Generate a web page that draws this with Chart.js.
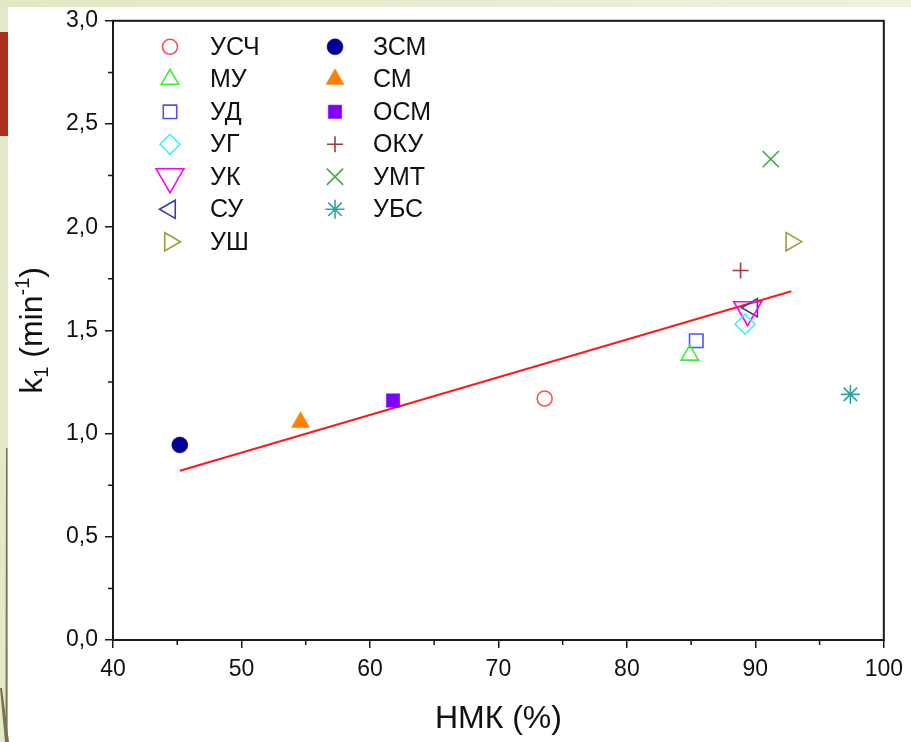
<!DOCTYPE html>
<html><head><meta charset="utf-8">
<script src="https://cdn.jsdelivr.net/npm/chart.js@4/dist/chart.umd.min.js"></script>
<style>
html,body{margin:0;padding:0;width:911px;height:742px;overflow:hidden;background:#e3e9c9;}
#topstrip{position:absolute;left:0;top:0;width:911px;height:7px;background:linear-gradient(to right,#e1e8c5,#eef2dd);}
#panel{position:absolute;left:8px;top:7px;width:903px;height:735px;background:#fff;}
#red{position:absolute;left:0;top:32px;width:8px;height:104px;background:#a9321a;}
#deco{position:absolute;left:0;top:0;}
#wrap{position:absolute;left:0;top:0;width:911px;height:742px;}
</style></head><body>
<div id="topstrip"></div><div id="panel"></div><div id="red"></div>
<svg id="deco" width="911" height="742"><polygon points="6,448 7.5,448 7.5,742 5.5,742" fill="#7b7153"/><polygon points="0,688 2,688 9,742 5,742" fill="#7b7153"/></svg>
<div id="wrap"><canvas id="c" width="911" height="742"></canvas></div>
<script>
// ---- data ----
const seriesNames = ['УСЧ','МУ','УД','УГ','УК','СУ','УШ','ЗСМ','СМ','ОСМ','ОКУ','УМТ','УБС'];
const nmkValues  = [73.6, 84.9, 85.4, 89.2, 89.4, 89.75, 92.8, 45.2, 54.6, 61.8, 88.85, 91.2, 97.4];
const k1Values   = [1.17, 1.38, 1.45, 1.53, 1.60, 1.61, 1.93, 0.945, 1.055, 1.16, 1.79, 2.33, 1.19];
const fitX = [45.2, 92.8];
const fitY = [0.82, 1.69];
const xTickValues = [40, 50, 60, 70, 80, 90, 100];
const yTickValues = [0, 0.5, 1.0, 1.5, 2.0, 2.5, 3.0];
const yTickLabels = ['0,0','0,5','1,0','1,5','2,0','2,5','3,0'];

// ---- styles ----
const markerStyles = [
  {ps:'circle',   rot:0,   r:7.5,c:'#ff4f4f', fill:false},
  {ps:'triangle', rot:0,   r:10, c:'#3cee3c', fill:false},
  {ps:'rect',     rot:0,   r:9.5,c:'#5050ff', fill:false},
  {ps:'rectRot',  rot:0,   r:10, c:'#3ef2f2', fill:false},
  {ps:'triangle', rot:180, r:16, c:'#ff00ff', fill:false},
  {ps:'triangle', rot:270, r:10.5,c:'#40409c', fill:false},
  {ps:'triangle', rot:90,  r:10.5,c:'#9c9c3c', fill:false},
  {ps:'circle',   rot:0,   r:8,  c:'#000096', fill:true},
  {ps:'triangle', rot:0,   r:10.5,c:'#ff8000', fill:true},
  {ps:'rect',     rot:0,   r:9.5,c:'#8000ff', fill:true},
  {ps:'cross',    rot:0,   r:8,  c:'#a03a3a', fill:false},
  {ps:'crossRot', rot:0,   r:11.5,c:'#45a445', fill:false},
  {ps:'star',     rot:0,   r:9.5,c:'#2ea3a3', fill:false}
];

const datasets = seriesNames.map((name, i) => {
  const s = markerStyles[i];
  return {
    label: name,
    data: [{x: nmkValues[i], y: k1Values[i]}],
    pointStyle: s.ps,
    rotation: s.rot,
    pointRadius: s.r,
    pointHoverRadius: s.r,
    borderColor: s.c,
    backgroundColor: s.fill ? s.c : 'rgba(0,0,0,0)',
    borderWidth: s.fill ? 0.5 : 1.6,
    showLine: false,
    order: 1
  };
});
datasets.push({
  label: 'fit', isFit: true,
  data: fitX.map((x, i) => ({x, y: fitY[i]})),
  showLine: true, pointRadius: 0, borderColor: '#ff1a1a', borderWidth: 2, order: 2
});

const FONT = 'Liberation Sans, Arial, sans-serif';

const decorPlugin = {
  id: 'decor',
  afterDraw(chart) {
    const {ctx, chartArea: a, scales: {x, y}} = chart;
    ctx.save();
    // minor ticks
    ctx.strokeStyle = '#1a1a1a'; ctx.lineWidth = 1.5;
    ctx.beginPath();
    for (let i = 0; i < xTickValues.length - 1; i++) {
      const px = x.getPixelForValue((xTickValues[i] + xTickValues[i+1]) / 2);
      ctx.moveTo(px, a.bottom); ctx.lineTo(px, a.bottom + 5);
    }
    for (let i = 0; i < yTickValues.length - 1; i++) {
      const py = y.getPixelForValue((yTickValues[i] + yTickValues[i+1]) / 2);
      ctx.moveTo(a.left - 5, py); ctx.lineTo(a.left, py);
    }
    ctx.stroke();
    // frame
    ctx.lineWidth = 2;
    ctx.strokeRect(a.left, a.top, a.right - a.left, a.bottom - a.top);

    // legend
    chart.data.datasets.forEach((ds, i) => {
      if (ds.isFit) return;
      const col = i < 7 ? 0 : 1, row = i < 7 ? i : i - 7;
      const sx = a.left + (col === 0 ? 57 : 222);
      const tx = a.left + (col === 0 ? 97 : 260);
      const py = a.top + 26 + row * 32.5;
      ctx.save();
      ctx.fillStyle = ds.backgroundColor;
      ctx.strokeStyle = ds.borderColor;
      ctx.lineWidth = ds.borderWidth;
      Chart.helpers.drawPoint(ctx, {pointStyle: ds.pointStyle, rotation: ds.rotation, radius: ds.pointRadius, borderWidth: ds.borderWidth}, sx, py);
      ctx.restore();
      ctx.fillStyle = '#111';
      ctx.font = '25px ' + FONT;
      ctx.textAlign = 'left'; ctx.textBaseline = 'middle';
      ctx.fillText(ds.label, tx, py + 1);
    });

    // x title
    ctx.fillStyle = '#111';
    ctx.font = '32px ' + FONT;
    ctx.textAlign = 'center'; ctx.textBaseline = 'middle';
    ctx.fillText('НМК (%)', (a.left + a.right) / 2, 719);

    // y title with sub/superscripts
    ctx.save();
    ctx.translate(31, (a.top + a.bottom) / 2);
    ctx.rotate(-Math.PI / 2);
    ctx.textBaseline = 'alphabetic'; ctx.textAlign = 'left';
    const big = '32px ' + FONT, small = '20px ' + FONT;
    const parts = [['k', big, 0], ['1', small, 6], [' (min', big, 0], ['-1', small, -13], [')', big, 0]];
    let w = 0;
    parts.forEach(p => { ctx.font = p[1]; w += ctx.measureText(p[0]).width; });
    let cx = -w / 2;
    parts.forEach(p => { ctx.font = p[1]; ctx.fillText(p[0], cx, 11 + p[2]); cx += ctx.measureText(p[0]).width; });
    ctx.restore();
    ctx.restore();
  }
};

new Chart(document.getElementById('c'), {
  type: 'scatter',
  data: { datasets },
  options: {
    responsive: false, animation: false,
    layout: { padding: { left: 0, right: 26, top: 20, bottom: 0 } },
    plugins: { legend: { display: false }, tooltip: { enabled: false } },
    scales: {
      x: {
        type: 'linear', min: 40, max: 100,
        afterFit: s => { s.height = 102; },
        afterBuildTicks: s => { s.ticks = xTickValues.map(v => ({value: v})); },
        ticks: { font: { family: FONT, size: 23 }, color: '#111', padding: 8, maxRotation: 0 },
        grid: { drawOnChartArea: false, tickLength: 8, color: '#1a1a1a', lineWidth: 1.5 },
        border: { display: true, color: '#1a1a1a', width: 2 }
      },
      y: {
        type: 'linear', min: 0, max: 3,
        afterFit: s => { s.width = 113; },
        afterBuildTicks: s => { s.ticks = yTickValues.map(v => ({value: v})); },
        ticks: { font: { family: FONT, size: 23 }, color: '#111', padding: 7,
                 callback: (v) => { const k = yTickValues.indexOf(v); return k >= 0 ? yTickLabels[k] : ''; } },
        grid: { drawOnChartArea: false, tickLength: 8, color: '#1a1a1a', lineWidth: 1.5 },
        border: { display: true, color: '#1a1a1a', width: 2 }
      }
    }
  },
  plugins: [decorPlugin]
});
</script>
</body></html>
